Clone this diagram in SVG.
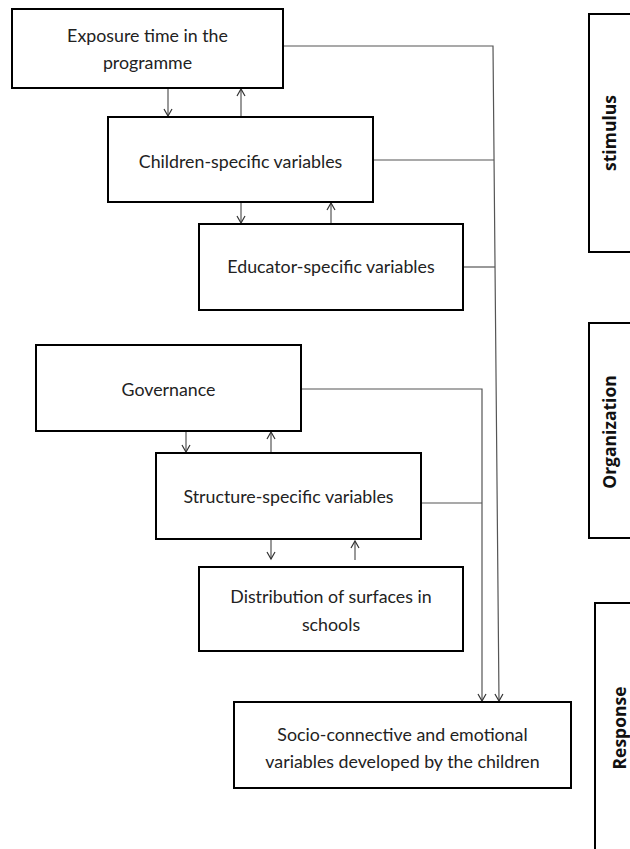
<svg xmlns="http://www.w3.org/2000/svg" width="630" height="849" viewBox="0 0 630 849">
<style>
.box{fill:#fff;stroke:#000;stroke-width:2}
.t{font-family:Lato,"Liberation Sans",sans-serif;font-size:17.8px;fill:#222;text-anchor:middle}
.side{font-family:"Open Sans","Liberation Sans",sans-serif;font-size:17.5px;font-weight:bold;fill:#111;text-anchor:middle}
.c{fill:none;stroke:#555;stroke-width:1.2}
</style>
<defs>
<marker id="ah" markerWidth="10" markerHeight="10" refX="8" refY="5" orient="auto" markerUnits="userSpaceOnUse">
<polyline points="1,1 8,5 1,9" fill="none" stroke="#333" stroke-width="1.2"/>
</marker>
</defs>
<rect width="630" height="849" fill="#fff"/>
<g id="connectors">
<line class="c" x1="168" y1="89" x2="168" y2="116" marker-end="url(#ah)"/>
<line class="c" x1="241" y1="116" x2="241" y2="89" marker-end="url(#ah)"/>
<line class="c" x1="241" y1="203" x2="241" y2="223" marker-end="url(#ah)"/>
<line class="c" x1="331" y1="223" x2="331" y2="203" marker-end="url(#ah)"/>
<line class="c" x1="186" y1="432" x2="186" y2="452" marker-end="url(#ah)"/>
<line class="c" x1="271" y1="452" x2="271" y2="432" marker-end="url(#ah)"/>
<line class="c" x1="271" y1="540" x2="271" y2="559" marker-end="url(#ah)"/>
<line class="c" x1="355" y1="560" x2="355" y2="541" marker-end="url(#ah)"/>
<polyline class="c" points="283,46 493,46 499,701" marker-end="url(#ah)"/>
<line class="c" x1="373" y1="160" x2="494" y2="160"/>
<line class="c" x1="463" y1="267" x2="495" y2="267"/>
<polyline class="c" points="301,389 482,389 482,701" marker-end="url(#ah)"/>
<line class="c" x1="421" y1="503" x2="482" y2="503"/>
</g>
<g id="exposure">
<rect class="box" x="12" y="9" width="271" height="79"/>
<text class="t" x="147.5" y="42">Exposure time in the</text>
<text class="t" x="147.5" y="69">programme</text>
</g>
<g id="children">
<rect class="box" x="108" y="117" width="265" height="85"/>
<text class="t" x="240.5" y="168">Children-specific variables</text>
</g>
<g id="educator">
<rect class="box" x="199" y="224" width="264" height="86"/>
<text class="t" x="331" y="273">Educator-specific variables</text>
</g>
<g id="governance">
<rect class="box" x="36" y="345" width="265" height="86"/>
<text class="t" x="168.5" y="396">Governance</text>
</g>
<g id="structure">
<rect class="box" x="156" y="453" width="265" height="86"/>
<text class="t" x="288.5" y="503">Structure-specific variables</text>
</g>
<g id="distribution">
<rect class="box" x="199" y="567" width="264" height="84"/>
<text class="t" x="331" y="603">Distribution of surfaces in</text>
<text class="t" x="331" y="631">schools</text>
</g>
<g id="socio">
<rect class="box" x="234" y="702" width="337" height="86"/>
<text class="t" x="402.5" y="741">Socio-connective and emotional</text>
<text class="t" x="402.5" y="768">variables developed by the children</text>
</g>
<g id="stimulus">
<rect class="box" x="589" y="14" width="60" height="238"/>
<text class="side" transform="translate(616,133) rotate(-90)">stimulus</text>
</g>
<g id="organization">
<rect class="box" x="589" y="323" width="60" height="215"/>
<text class="side" transform="translate(616,432) rotate(-90)">Organization</text>
</g>
<g id="response">
<rect class="box" x="595" y="603" width="60" height="260"/>
<text class="side" transform="translate(626,728) rotate(-90)">Response</text>
</g>
</svg>
